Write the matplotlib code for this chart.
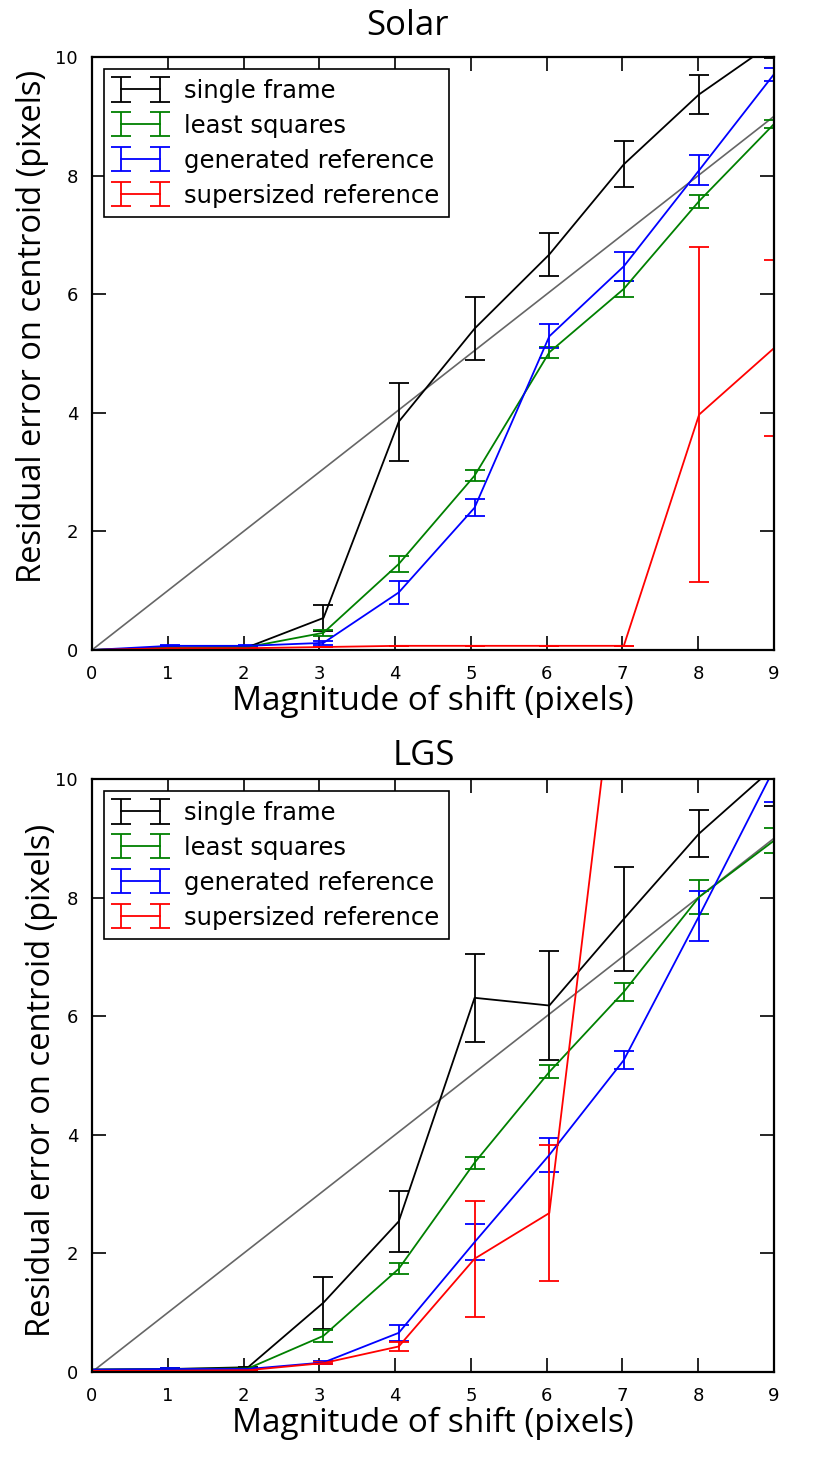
import matplotlib

matplotlib.use("Agg")
import matplotlib.pyplot as plt

nan = float("nan")

# measured shift magnitudes (slightly off the integer grid)
shift = [0.0, 1.03, 2.06, 3.055, 4.048, 5.049, 6.035, 7.018, 8.012, 9.0]

labels = ["single frame", "least squares", "generated reference", "supersized reference"]
colours = ["black", "green", "blue", "red"]

# Solar
solar_single = [0.0, 0.04, 0.05, 0.54, 3.85, 5.42, 6.67, 8.19, 9.37, 10.25]
solar_single_err = [nan, 0.01, 0.01, 0.22, 0.66, 0.53, 0.36, 0.39, 0.33, 0.26]
solar_lsq = [0.0, 0.04, 0.05, 0.29, 1.45, 2.94, 5.02, 6.09, 7.57, 8.87]
solar_lsq_err = [nan, 0.01, 0.01, 0.05, 0.13, 0.09, 0.09, 0.14, 0.11, 0.07]
solar_gen = [0.0, 0.07, 0.07, 0.12, 0.97, 2.40, 5.29, 6.47, 8.09, 9.71]
solar_gen_err = [nan, 0.01, 0.01, 0.03, 0.19, 0.14, 0.20, 0.25, 0.25, 0.11]
solar_super = [0.0, 0.03, 0.03, 0.05, 0.07, 0.07, 0.07, 0.07, 3.97, 5.09]
solar_super_err = [nan, 0.005, 0.005, 0.005, 0.005, 0.005, 0.005, 0.005, 2.83, 1.48]

# LGS
lgs_single = [0.04, 0.05, 0.08, 1.17, 2.54, 6.31, 6.18, 7.64, 9.08, 10.2]
lgs_single_err = [nan, 0.01, 0.01, 0.44, 0.51, 0.74, 0.92, 0.88, 0.40, 0.65]
lgs_lsq = [0.04, 0.05, 0.06, 0.61, 1.74, 3.53, 5.06, 6.41, 8.01, 8.96]
lgs_lsq_err = [nan, 0.01, 0.01, 0.10, 0.09, 0.10, 0.11, 0.15, 0.29, 0.21]
lgs_gen = [0.04, 0.05, 0.05, 0.16, 0.66, 2.19, 3.66, 5.26, 7.69, 10.17]
lgs_gen_err = [nan, 0.01, 0.01, 0.02, 0.14, 0.30, 0.28, 0.15, 0.42, 0.56]
lgs_super = [0.02, 0.02, 0.03, 0.15, 0.43, 1.91, 2.68, 13.1, 15.0, 17.0]
lgs_super_err = [nan, 0.005, 0.005, 0.02, 0.07, 0.98, 1.15, 1.0, 1.0, 1.0]

panels = [
    ("Solar", [solar_single, solar_lsq, solar_gen, solar_super],
     [solar_single_err, solar_lsq_err, solar_gen_err, solar_super_err]),
    ("LGS", [lgs_single, lgs_lsq, lgs_gen, lgs_super],
     [lgs_single_err, lgs_lsq_err, lgs_gen_err, lgs_super_err]),
]

# title x / pad and ylabel coords differ a little between the two panels
title_x = [0.462, 0.487]
title_pad = [16, 10]
ylabel_xy = [(-0.063, 0.5455), (-0.050, 0.492)]

label_font = "Open Sans"

fig = plt.figure(figsize=(8.31, 14.58), dpi=100)
ax_top = fig.add_axes([0.1107, 0.5542, 0.8207, 0.4067])
ax_bot = fig.add_axes([0.1107, 0.0590, 0.8207, 0.4067])

for i, (ax, (name, values, errors)) in enumerate(zip([ax_top, ax_bot], panels)):
    ax.plot([0, 9], [0, 9], color="#666666", lw=1.2)
    for y, e, c, lab in zip(values, errors, colours, labels):
        ax.errorbar(shift, y, yerr=e, color=c, lw=1.3, capsize=7, capthick=1.3,
                    elinewidth=1.3, label=lab)
    ax.set_xlim(0, 9)
    ax.set_ylim(0, 10)
    ax.set_xticks(range(10))
    ax.set_yticks([0, 2, 4, 6, 8, 10])
    ax.tick_params(direction="in", top=True, right=True, length=10, width=1.2,
                   labelsize=13)
    ax.tick_params(axis="x", pad=11)
    ax.tick_params(axis="y", pad=10)
    for sp in ax.spines.values():
        sp.set_linewidth(1.6)
    ax.set_title(name, fontsize=25, family=label_font, x=title_x[i], pad=title_pad[i])
    ax.set_xlabel("Magnitude of shift (pixels)", fontsize=24, family=label_font, labelpad=1)
    ax.set_ylabel("Residual error on centroid (pixels)", fontsize=23.5, family=label_font)
    ax.yaxis.set_label_coords(*ylabel_xy[i])
    leg = ax.legend(loc="upper left", numpoints=2, fontsize=17.5, fancybox=False,
                    framealpha=1, edgecolor="black", handlelength=2.2,
                    handletextpad=0.7, borderaxespad=0.5, labelspacing=0.45,
                    borderpad=0.4)
    leg.get_frame().set_linewidth(1.2)

fig.savefig("out.png", dpi=100)
